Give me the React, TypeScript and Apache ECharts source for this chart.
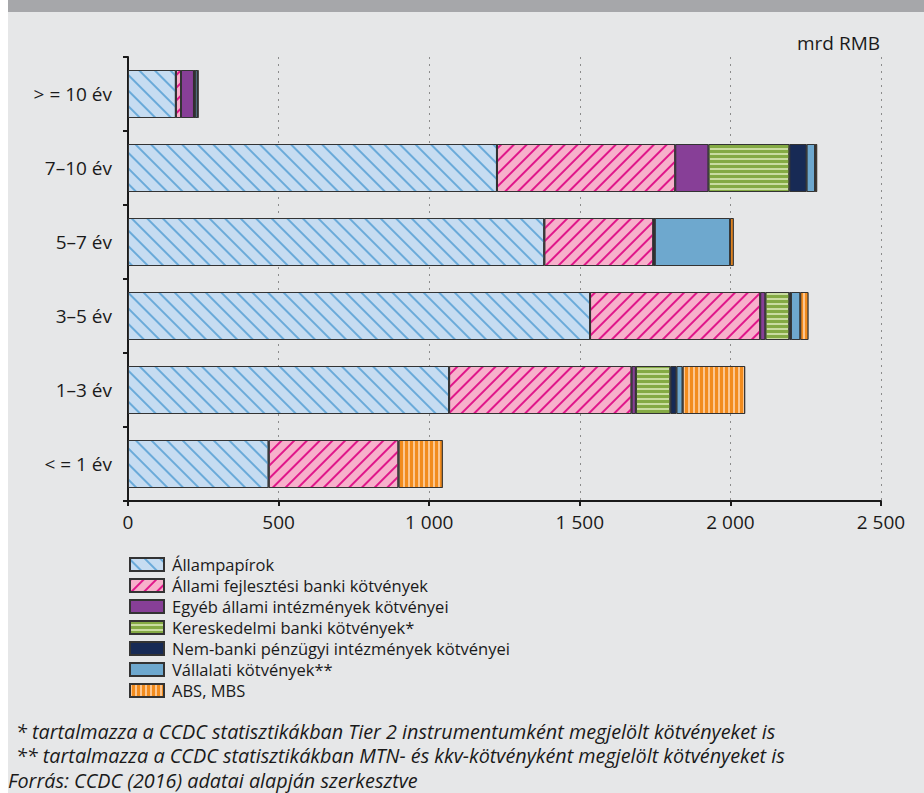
import React, { useEffect, useRef } from 'react';
import * as echarts from 'echarts';

const categories = ['> = 10 év', '7–10 év', '5–7 év', '3–5 év', '1–3 év', '< = 1 év'];
const allampapirok = [159, 1225, 1382, 1534, 1066, 467];
const allamiFejlesztesi = [17, 592, 362, 565, 606, 431];
const egyebAllami = [43, 110, 3, 17, 14, 0];
const kereskedelmi = [3, 269, 0, 80, 115, 0];
const nemBanki = [1, 57, 2, 5, 20, 0];
const vallalati = [8, 28, 250, 31, 20, 0];
const absMbs = [2, 7, 12, 27, 208, 147];
const xTicks = [0, 500, 1000, 1500, 2000, 2500];
const xTickLabels = ['0', '500', '1 000', '1 500', '2 000', '2 500'];
const seriesNames = [
  'Állampapírok',
  'Állami fejlesztési banki kötvények',
  'Egyéb állami intézmények kötvényei',
  'Kereskedelmi banki kötvények*',
  'Nem-banki pénzügyi intézmények kötvényei',
  'Vállalati kötvények**',
  'ABS, MBS',
];
const footnotes = [
  '* tartalmazza a CCDC statisztikákban Tier 2 instrumentumként megjelölt kötvényeket is',
  '** tartalmazza a CCDC statisztikákban MTN- és kkv-kötvényként megjelölt kötvényeket is',
  'Forrás: CCDC (2016) adatai alapján szerkesztve',
];

const FONT = 'Open Sans';

const solid = (c: string) => ({
  color: c,
  decal: { symbol: 'rect', symbolSize: 1, color: c, backgroundColor: c, dashArrayX: [1, 0], dashArrayY: [1, 0], rotation: 0 },
});

export default function App() {
  const ref = useRef<HTMLDivElement>(null);
  useEffect(() => {
    const chart = echarts.init(ref.current!, null, { renderer: 'svg' });
    const dataSets = [allampapirok, allamiFejlesztesi, egyebAllami, kereskedelmi, nemBanki, vallalati, absMbs];
    const styles: any[] = [
      {
        color: '#c6dcf1',
        decal: { symbol: 'rect', symbolSize: 1, color: '#6aaad9', backgroundColor: '#c6dcf1', dashArrayX: [1, 0], dashArrayY: [2, 9], rotation: Math.PI / 4 },
      },
      {
        color: '#f7b0cb',
        decal: { symbol: 'rect', symbolSize: 1, color: '#e0178a', backgroundColor: '#f7b0cb', dashArrayX: [1, 0], dashArrayY: [2, 7], rotation: -Math.PI / 4 },
      },
      solid('#873f97'),
      {
        color: '#c9dca0',
        decal: { symbol: 'rect', symbolSize: 1, color: '#84aa44', backgroundColor: '#c9dca0', dashArrayX: [1, 0], dashArrayY: [2.5, 1.5], rotation: 0 },
      },
      solid('#172a55'),
      solid('#6ea8ce'),
      {
        color: '#fcc690',
        decal: { symbol: 'rect', symbolSize: 1, color: '#f28c1e', backgroundColor: '#fcc690', dashArrayX: [1, 0], dashArrayY: [2.5, 1.5], rotation: Math.PI / 2 },
      },
    ];
    const series = seriesNames.map((name, i) => ({
      name,
      type: 'bar',
      stack: 'total',
      barWidth: 48,
      data: dataSets[i].map((v) => (v === 0 ? '-' : v)),
      itemStyle: { ...styles[i], borderColor: '#333333', borderWidth: 1 },
      emphasis: { disabled: true },
    }));
    chart.setOption({
      animation: false,
      backgroundColor: '#e6e7e8',
      aria: { enabled: true, decal: { show: true } },
      textStyle: { fontFamily: FONT },
      grid: { left: 120, right: 43, top: 57, bottom: 292, containLabel: false },
      xAxis: {
        type: 'value',
        min: 0,
        max: 2500,
        interval: 500,
        axisLine: { show: true, lineStyle: { color: '#1a1a1a', width: 2 } },
        axisTick: { show: true, length: 5, lineStyle: { color: '#1a1a1a', width: 2 } },
        axisLabel: {
          color: '#1a1a1a',
          fontSize: 19,
          fontFamily: FONT,
          margin: 11,
          formatter: (v: number) => xTickLabels[xTicks.indexOf(v)] ?? String(v),
        },
        splitLine: { show: true, lineStyle: { color: '#8c8c8c', width: 1, type: [2, 5] } },
      },
      yAxis: {
        type: 'category',
        inverse: true,
        data: categories,
        axisLine: { show: true, lineStyle: { color: '#1a1a1a', width: 2 } },
        axisTick: { show: true, length: 5, lineStyle: { color: '#1a1a1a', width: 2 } },
        axisLabel: { color: '#1a1a1a', fontSize: 19, fontFamily: FONT, margin: 16 },
      },
      legend: {
        orient: 'vertical',
        left: 121,
        top: 555,
        padding: 0,
        itemWidth: 34,
        itemHeight: 13,
        itemGap: 2,
        icon: 'rect',
        selectedMode: false,
        textStyle: { color: '#1a1a1a', fontSize: 16.5, fontFamily: FONT, lineHeight: 19, padding: [0, 0, 0, 3] },
        data: seriesNames,
      },
      graphic: [
        { type: 'rect', left: 0, top: 0, shape: { width: 916, height: 12 }, style: { fill: '#a6a7aa' }, silent: true },
        {
          type: 'text',
          x: 872,
          y: 43,
          style: { text: 'mrd RMB', fill: '#1a1a1a', font: `19px "${FONT}"`, align: 'right', verticalAlign: 'middle' },
        },
        ...footnotes.map((t, i) => ({
          type: 'text',
          x: i < 2 ? 8 : 0,
          y: 731 + i * 24.5,
          style: { text: t, fill: '#1a1a1a', font: `italic 19.8px "${FONT}"`, align: 'left', verticalAlign: 'middle' },
        })),
      ],
      series,
    });
    return () => chart.dispose();
  }, []);
  return <div ref={ref} style={{ position: 'absolute', left: 8, top: 0, width: 916, height: 793 }} />;
}
